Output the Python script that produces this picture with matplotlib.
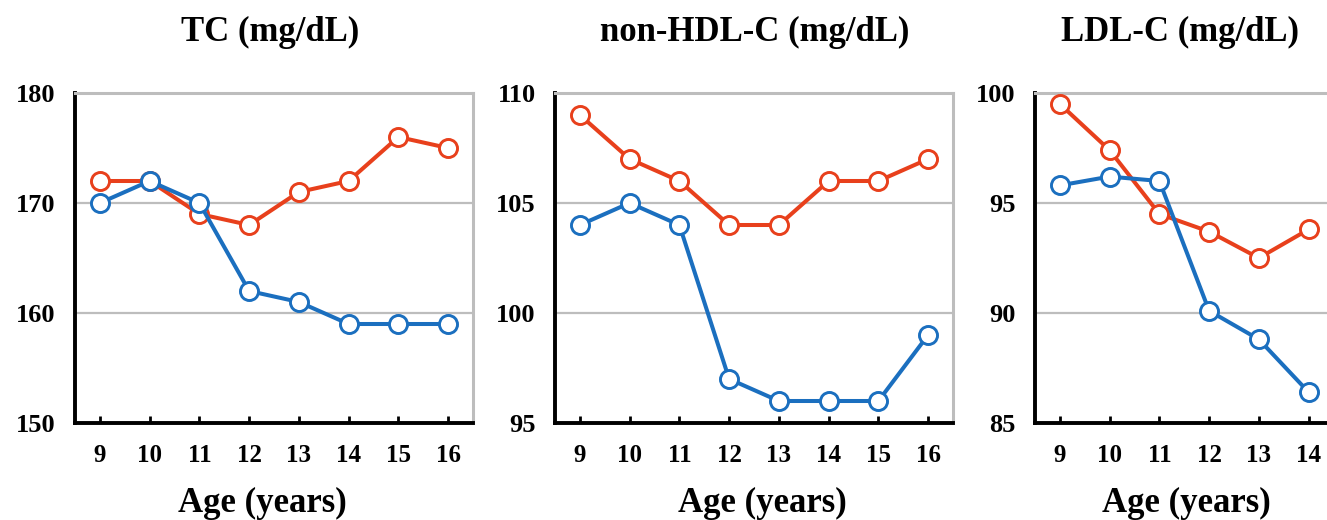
import matplotlib
matplotlib.use("Agg")
import matplotlib.pyplot as plt

plt.rcParams['font.family'] = ['Liberation Serif', 'DejaVu Serif']
plt.rcParams['font.weight'] = 'bold'

ages = [9, 10, 11, 12, 13, 14, 15, 16]

tc_red = [172, 172, 169, 168, 171, 172, 176, 175]
tc_blue = [170, 172, 170, 162, 161, 159, 159, 159]

nonhdl_red = [109, 107, 106, 104, 104, 106, 106, 107]
nonhdl_blue = [104, 105, 104, 97, 96, 96, 96, 99]

# only ages 9-14 are visible in the (cropped) third panel
ldl_ages = [9, 10, 11, 12, 13, 14]
ldl_red = [99.5, 97.4, 94.5, 93.7, 92.5, 93.8]
ldl_blue = [95.8, 96.2, 96.0, 90.1, 88.8, 86.4]

titles = ['TC (mg/dL)', 'non-HDL-C (mg/dL)', 'LDL-C (mg/dL)']
yticks_all = [[150, 160, 170, 180], [95, 100, 105, 110], [85, 90, 95, 100]]

RED = '#E8401C'
BLUE = '#1B6FBF'
GRID = '#BDBDBD'

W, H = 1327, 520
fig = plt.figure(figsize=(W / 100, H / 100), dpi=100)

panels = [
    (75, ages, tc_red, tc_blue),
    (555, ages, nonhdl_red, nonhdl_blue),
    (1035, ldl_ages, ldl_red, ldl_blue),
]
title_x = [270, 755, 1180]
label_x = [262, 762, 1186]

for i, (left, xs, red, blue) in enumerate(panels):
    ax = fig.add_axes([left / W, 97 / H, 398 / W, 330 / H])
    yt = yticks_all[i]
    ax.set_xlim(8.5, 16.5)
    ax.set_ylim(yt[0], yt[-1])
    ax.set_yticks(yt)
    ax.set_xticks(xs)
    for y in yt[1:-1]:
        ax.axhline(y, color=GRID, lw=1.6, zorder=1)
    ax.plot(xs, red, color=RED, lw=2.9, marker='o', ms=13, mfc='white',
            mec=RED, mew=2.1, zorder=3, clip_on=False)
    ax.plot(xs, blue, color=BLUE, lw=2.9, marker='o', ms=13, mfc='white',
            mec=BLUE, mew=2.1, zorder=4, clip_on=False)
    for s in ['top', 'right']:
        ax.spines[s].set_color(GRID)
        ax.spines[s].set_linewidth(2.2)
    for s in ['left', 'bottom']:
        ax.spines[s].set_color('black')
        ax.spines[s].set_linewidth(2.8)
    ax.tick_params(axis='x', direction='in', length=5, width=2, pad=15,
                   labelsize=18)
    ax.tick_params(axis='y', length=0, pad=14, labelsize=19)
    for lab in ax.get_xticklabels() + ax.get_yticklabels():
        lab.set_fontweight('bold')
    fig.text(title_x[i] / W, 1 - 32 / H, titles[i], ha='center', va='center',
             fontsize=25, fontweight='bold')
    fig.text(label_x[i] / W, 1 - 503 / H, 'Age (years)', ha='center',
             va='center', fontsize=25, fontweight='bold')

fig.savefig('out.png', dpi=100)
